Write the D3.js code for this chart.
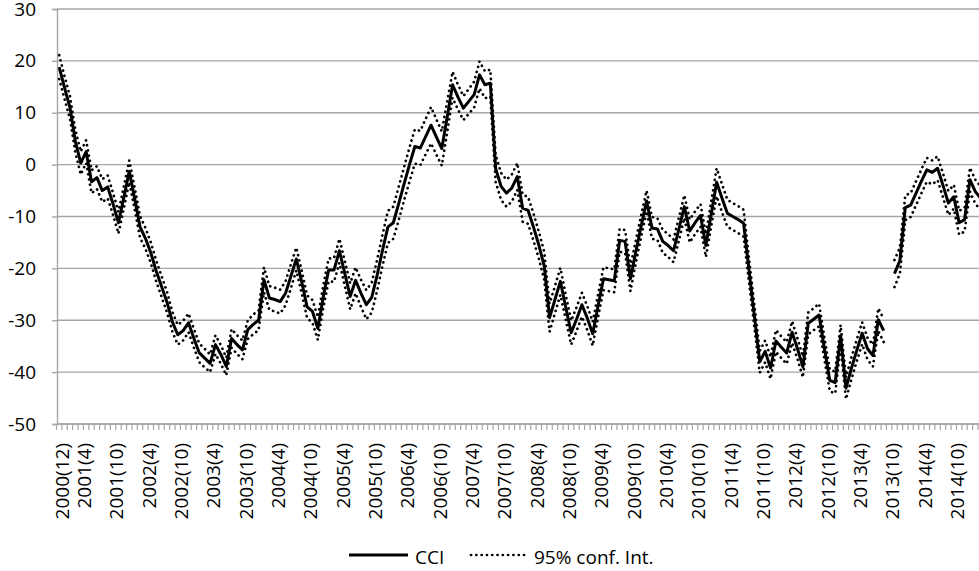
<!DOCTYPE html>
<html>
<head>
<meta charset="utf-8">
<script src="https://cdn.jsdelivr.net/npm/d3@7"></script>
<style>
  body { margin: 0; background: #fff; }
  svg { display: block; }
  text { font-family: "Open Sans", sans-serif; fill: #000; }
</style>
</head>
<body>
<svg id="chart" width="979" height="571"></svg>
<script>
// Monthly categories, 2000(12) through 2015(3)
const months = [];
for (let yr = 2000, mo = 12; months.length < 172; ) {
  months.push(`${yr}(${mo})`);
  mo += 1;
  if (mo > 12) { mo = 1; yr += 1; }
}

// Categories that carry a label on the x axis
const tickLabels = [
  "2000(12)", "2001(4)", "2001(10)", "2002(4)", "2002(10)", "2003(4)", "2003(10)",
  "2004(4)", "2004(10)", "2005(4)", "2005(10)", "2006(4)", "2006(10)", "2007(4)",
  "2007(10)", "2008(4)", "2008(10)", "2009(4)", "2009(10)", "2010(4)", "2010(10)",
  "2011(4)", "2011(10)", "2012(4)", "2012(10)", "2013(4)", "2013(10)", "2014(4)",
  "2014(10)"
];

const yTicks = [-50, -40, -30, -20, -10, 0, 10, 20, 30];

// Consumer confidence indicator (null = no observation)
const cci = [
  18.8, 14.8, 11.0, 4.5, 0.3, 2.5, -3.3, -2.5, -5.0, -4.3,
  -7.6, -11.2, -6.3, -1.3, -6.5, -12.0, -14.2, -17.0, -20.5, -23.5,
  -26.5, -30.3, -32.8, -32.0, -30.5, -33.5, -36.3, -37.3, -38.3, -34.7,
  -36.6, -38.9, -33.5, -34.7, -35.7, -31.8, -30.8, -30.0, -22.2, -25.7,
  -26.0, -26.4, -24.8, -21.5, -18.2, -22.6, -27.4, -28.3, -31.6, -25.5,
  -20.3, -20.3, -16.6, -21.0, -25.4, -22.3, -24.8, -27.0, -25.6, -21.3,
  -16.5, -12.0, -11.2, -7.5, -3.7, 0.0, 3.5, 3.2, 5.4, 7.6,
  5.3, 3.1, 9.2, 15.4, 13.0, 10.9, 12.2, 13.5, 17.3, 15.4,
  15.7, -0.8, -4.2, -5.5, -4.5, -2.3, -8.4, -8.8, -12.0, -15.5,
  -19.5, -29.5, -26.0, -22.5, -27.5, -32.4, -29.8, -27.0, -29.6, -32.6,
  -27.2, -22.0, -22.2, -22.4, -14.6, -14.8, -22.0, -16.8, -11.8, -7.0,
  -12.2, -12.4, -14.8, -15.6, -16.6, -12.4, -8.1, -12.8, -11.2, -9.8,
  -15.6, -9.5, -3.4, -6.5, -9.4, -10.0, -10.6, -11.3, -20.3, -29.2,
  -38.0, -36.0, -39.2, -34.0, -35.2, -36.3, -32.3, -35.5, -39.0, -30.6,
  -29.8, -29.0, -35.5, -41.6, -42.0, -33.0, -43.1, -39.3, -35.8, -32.5,
  -35.5, -36.8, -29.9, -32.0, null, -21.0, -18.5, -8.3, -7.8, -5.5,
  -3.2, -1.0, -1.5, -0.7, -4.0, -7.4, -6.2, -11.2, -10.6, -2.9,
  -5.2, -6.5
];

// Upper bound of the 95% confidence interval
const ciHigh = [
  21.1, 17.0, 13.2, 6.7, 2.5, 4.7, -1.1, -0.3, -2.8, -2.1,
  -5.5, -9.1, -4.2, 0.8, -4.4, -9.9, -12.2, -15.0, -18.5, -21.5,
  -24.5, -28.4, -30.9, -30.1, -28.7, -31.7, -34.5, -35.5, -36.6, -32.9,
  -34.8, -37.2, -31.7, -32.9, -33.9, -30.0, -28.9, -28.1, -19.8, -23.4,
  -23.7, -24.1, -22.5, -19.2, -16.0, -20.4, -25.2, -26.1, -29.4, -23.3,
  -18.1, -18.0, -14.3, -18.6, -22.9, -19.8, -22.2, -24.2, -22.7, -18.3,
  -13.5, -8.9, -8.1, -4.3, -0.5, 3.3, 6.8, 6.5, 8.8, 11.1,
  8.7, 6.4, 12.2, 17.9, 15.4, 13.2, 14.6, 16.0, 19.9, 18.0,
  18.3, 1.8, -1.6, -2.9, -1.9, 0.3, -5.8, -6.2, -9.4, -12.9,
  -16.8, -26.8, -23.4, -19.9, -25.1, -30.1, -27.5, -24.7, -27.3, -30.3,
  -25.0, -19.8, -20.0, -20.2, -12.4, -12.6, -19.6, -14.6, -9.7, -5.0,
  -10.1, -10.3, -12.6, -13.4, -14.4, -10.2, -5.9, -10.6, -9.0, -7.6,
  -13.4, -7.1, -0.7, -3.8, -6.8, -7.4, -8.0, -8.7, -18.0, -27.0,
  -35.9, -33.9, -37.1, -31.9, -33.1, -34.2, -30.2, -33.5, -37.0, -28.5,
  -27.7, -26.8, -33.4, -39.5, -39.9, -30.9, -41.0, -37.2, -33.7, -30.4,
  -33.4, -34.7, -27.7, -29.8, null, -18.4, -16.0, -5.9, -5.5, -3.2,
  -0.9, 1.3, 0.8, 1.6, -1.7, -5.1, -3.9, -8.9, -8.3, -0.6,
  -2.9, -4.2
];

// Lower bound of the 95% confidence interval
const ciLow = [
  16.5, 12.6, 8.8, 2.3, -1.9, 0.3, -5.5, -4.7, -7.2, -6.5,
  -9.7, -13.3, -8.4, -3.4, -8.6, -14.1, -16.2, -19.0, -22.5, -25.5,
  -28.5, -32.2, -34.7, -33.9, -32.3, -35.3, -38.1, -39.1, -40.0, -36.5,
  -38.4, -40.6, -35.3, -36.5, -37.5, -33.6, -32.7, -31.9, -24.6, -28.0,
  -28.3, -28.7, -27.1, -23.8, -20.4, -24.8, -29.6, -30.5, -33.8, -27.7,
  -22.5, -22.6, -18.9, -23.4, -27.9, -24.8, -27.4, -29.8, -28.5, -24.3,
  -19.5, -15.1, -14.3, -10.7, -6.9, -3.3, 0.2, -0.1, 2.0, 4.1,
  1.9, -0.2, 6.2, 12.9, 10.6, 8.6, 9.8, 11.0, 14.7, 12.8,
  13.1, -3.4, -6.8, -8.1, -7.1, -4.9, -11.0, -11.4, -14.6, -18.1,
  -22.2, -32.2, -28.6, -25.1, -29.9, -34.7, -32.1, -29.3, -31.9, -34.9,
  -29.4, -24.2, -24.4, -24.6, -16.8, -17.0, -24.4, -19.0, -13.9, -9.0,
  -14.3, -14.5, -17.0, -17.8, -18.8, -14.6, -10.3, -15.0, -13.4, -12.0,
  -17.8, -11.9, -6.1, -9.2, -12.0, -12.6, -13.2, -13.9, -22.6, -31.4,
  -40.1, -38.1, -41.3, -36.1, -37.3, -38.4, -34.4, -37.5, -41.0, -32.7,
  -31.9, -31.2, -37.6, -43.7, -44.1, -35.1, -45.2, -41.4, -37.9, -34.6,
  -37.6, -38.9, -32.1, -34.2, null, -23.6, -21.0, -10.7, -10.1, -7.8,
  -5.5, -3.3, -3.8, -3.0, -6.3, -9.7, -8.5, -13.5, -12.9, -5.2,
  -7.5, -8.8
];

const svg = d3.select("#chart");
const gridColor = "#a6a6a6";
const step = 5.389;
const plotLeft = 56.5, plotTop = 9, plotBottom = 424;

const x = d3.scaleBand()
  .domain(months)
  .range([plotLeft, plotLeft + months.length * step])
  .padding(0);
const xc = m => x(m) + x.bandwidth() / 2;

const y = d3.scaleLinear().domain([-50, 30]).range([plotBottom, plotTop]);

// Horizontal gridlines
svg.append("g")
  .selectAll("line")
  .data(yTicks)
  .join("line")
  .attr("x1", 57).attr("x2", 979)
  .attr("y1", d => y(d)).attr("y2", d => y(d))
  .attr("stroke", gridColor)
  .attr("stroke-width", 1.4);

// Y axis with value labels (plain hyphen for negatives)
const yAxis = svg.append("g")
  .attr("transform", "translate(57,0)")
  .call(d3.axisLeft(y).tickValues(yTicks).tickSize(5).tickPadding(16).tickFormat(d => String(d)));
yAxis.select(".domain").attr("stroke", gridColor).attr("stroke-width", 1.4);
yAxis.selectAll(".tick line").attr("stroke", gridColor).attr("stroke-width", 1.4);
yAxis.selectAll(".tick text")
  .attr("font-family", "Open Sans, sans-serif")
  .attr("font-size", 19)
  .attr("fill", "#000");

// X axis baseline and a tick at every month boundary
svg.append("line")
  .attr("x1", 57).attr("x2", 979)
  .attr("y1", plotBottom).attr("y2", plotBottom)
  .attr("stroke", gridColor).attr("stroke-width", 1.4);

svg.append("g")
  .selectAll("line")
  .data(months)
  .join("line")
  .attr("x1", d => x(d)).attr("x2", d => x(d))
  .attr("y1", plotBottom).attr("y2", plotBottom + 6)
  .attr("stroke", gridColor).attr("stroke-width", 1.2);

// Rotated category labels
svg.append("g")
  .selectAll("text")
  .data(tickLabels)
  .join("text")
  .attr("transform", d => `translate(${xc(d) + 3.5},443) rotate(-90)`)
  .attr("text-anchor", "end")
  .attr("dy", "0.35em")
  .attr("font-size", 19)
  .text(d => d);

// Series lines
const line = d3.line()
  .defined(d => d != null)
  .x((d, i) => xc(months[i]))
  .y(d => y(d));

const dotted = g => g
  .attr("fill", "none")
  .attr("stroke", "#000")
  .attr("stroke-width", 2.7)
  .attr("stroke-linecap", "round")
  .attr("stroke-dasharray", "0.1 5.2");

svg.append("path").datum(ciHigh).attr("d", line).call(dotted);
svg.append("path").datum(ciLow).attr("d", line).call(dotted);

svg.append("path").datum(cci)
  .attr("d", line)
  .attr("fill", "none")
  .attr("stroke", "#000")
  .attr("stroke-width", 3)
  .attr("stroke-linejoin", "round");

// Legend
const legend = svg.append("g");
legend.append("line")
  .attr("x1", 349).attr("x2", 408).attr("y1", 555).attr("y2", 555)
  .attr("stroke", "#000").attr("stroke-width", 3);
legend.append("text").attr("x", 415).attr("y", 564).attr("font-size", 19).text("CCI");
legend.append("line")
  .attr("x1", 471).attr("x2", 528).attr("y1", 555).attr("y2", 555)
  .call(dotted);
legend.append("text").attr("x", 534).attr("y", 564).attr("font-size", 19).text("95% conf. Int.");
</script>
</body>
</html>
